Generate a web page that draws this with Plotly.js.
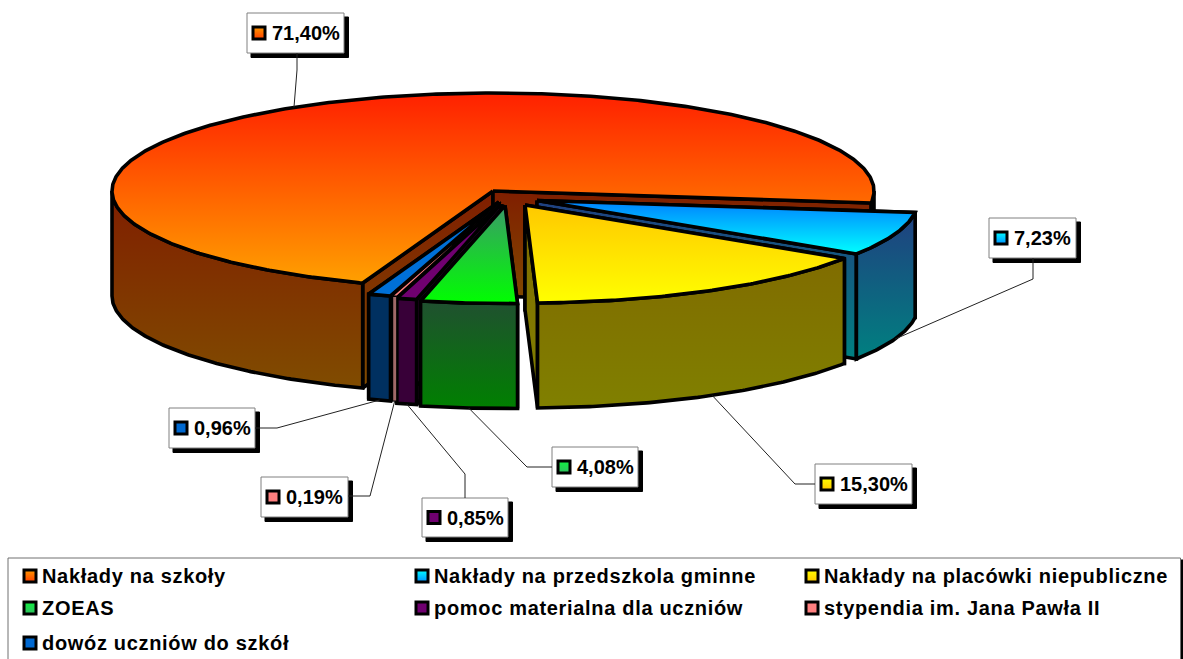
<!DOCTYPE html>
<html><head><meta charset="utf-8">
<script src="https://cdn.plot.ly/plotly-3.0.1.min.js"></script>
<style>html,body{margin:0;padding:0;background:#fff}#c{width:1183px;height:659px}</style>
</head><body><div id="c"></div>
<script>
// ---- data ----
var categories = ["Nakłady na szkoły","Nakłady na przedszkola gminne","Nakłady na placówki niepubliczne","ZOEAS","pomoc materialna dla uczniów","stypendia im. Jana Pawła II","dowóz uczniów do szkół"];
var values = [71.40,7.23,15.30,4.08,0.85,0.19,0.96];
var valueLabels = ["71,40%","7,23%","15,30%","4,08%","0,85%","0,19%","0,96%"];

// ---- projection of the tilted pie ----
var cx=493, cy=191, rx=381, ry=98, depth=105, startAngle=110;
var explodeX=[0,44,32,12,8,8,6];
var explodeY=[0,9.5,14,14.5,13,11,11];
var outline=[3.6,3.6,3.6,3.6,3.6,1.4,3.6];
var showFaces=[true,true,true,true,true,false,true];
// ---- styles: [topStart, topEnd, sideStart, sideEnd] ----
var sliceColors=[
 ["#ff2000","#ffa000","#801e00","#804c00"],
 ["#0080ff","#00ffff","#204080","#008080"],
 ["#ffc800","#ffff00","#806c00","#808000"],
 ["#3a9a68","#00ff00","#205030","#008000"],
 ["#700070","#700070","#380038","#380038"],
 ["#ff8080","#ff8080","#a06868","#a06868"],
 ["#0070d8","#0070d8","#003060","#003060"]];
var iconColors=[["#ff4000","#ff9800"],["#0090ff","#00ffff"],["#ffc800","#ffff00"],["#30c060","#10f040"],["#700070","#700070"],["#ff8080","#ff8080"],["#0068d0","#0068d0"]];
var drawOrder=[0,1,2,6,4,5,3];
// label boxes: left, top, width, height
var boxes=[[247,13,97,40],[989,218,87,40],[815,464,97,40],[552,447,86,40],[422,498,86,39],[261,477,87,40],[169,408,86,40]];
// leader: elbow point, and box attachment point
var elbows=[[297,70],[1033,279],[795,484],[527,467],[465,474],[370,496],[277,428]];
var attach=[[297,53],[1033,258],[815,484],[552,467],[465,498],[348,496],[255,428]];
var legendX=[30,422,812], legendY=[576,608,643];

// ---- computed geometry ----
var sum=values.reduce(function(a,b){return a+b},0);
var angles=[],a0=startAngle;
values.forEach(function(v){var a1=a0+v/sum*360;angles.push([a0,a1]);a0=a1;});
function pt(i,deg,dz){var t=deg*Math.PI/180;return [cx+explodeX[i]+rx*Math.cos(t),cy+explodeY[i]+ry*Math.sin(t)+(dz||0)];}
function centre(i,dz){return [cx+explodeX[i],cy+explodeY[i]+(dz||0)];}
function arc(i,a,b,dz){var n=Math.max(2,Math.ceil(Math.abs(b-a))*2),o=[];for(var k=0;k<=n;k++){o.push(pt(i,a+(b-a)*k/n,dz));}return o;}
var traces=[];
function poly(points,c0,c1,w){
  var ys=points.map(function(p){return p[1]});
  var lo=Math.min.apply(null,ys),hi=Math.max.apply(null,ys);
  var xs=points.map(function(p){return p[0]}); xs.push(xs[0]);
  var yy=ys.slice(); yy.push(ys[0]);
  traces.push({type:'scatter',mode:'lines',x:xs,y:yy,fill:'toself',hoverinfo:'skip',showlegend:false,
    line:{color:'#000',width:w,shape:'linear'},
    fillgradient:{type:'vertical',start:lo,stop:hi,colorscale:[[0,c0],[1,c1]]}});
}
drawOrder.forEach(function(i){
  var a=angles[i][0],b=angles[i][1],col=sliceColors[i],w=outline[i];
  // cut faces
  if(showFaces[i]){
    [a,b].forEach(function(e){
      poly([centre(i),pt(i,e),pt(i,e,depth),centre(i,depth)],col[2],col[3],w);
    });
  }
  // outer wall, only the part turned to the viewer
  [[a,Math.min(b,180)],[Math.max(a,360),b]].forEach(function(s){
    if(s[1]>s[0]){poly(arc(i,s[0],s[1]).concat(arc(i,s[1],s[0],depth)),col[2],col[3],w);}
  });
  // top
  poly([centre(i)].concat(arc(i,a,b)),col[0],col[1],w);
});
// leader lines from slice to label
values.forEach(function(v,i){
  var mid=(angles[i][0]+angles[i][1])/2,s=Math.sin(mid*Math.PI/180);
  var p=pt(i,mid,s>0?depth:0);
  traces.push({type:'scatter',mode:'lines',x:[p[0],elbows[i][0],attach[i][0]],y:[p[1],elbows[i][1],attach[i][1]],
    line:{color:'#222',width:1},hoverinfo:'skip',showlegend:false});
});
// swatches in labels and legend
function icon(name,x,y,i){
  traces.push({type:'scatter',mode:'markers',name:name,x:[x],y:[y],hoverinfo:'skip',showlegend:false,
    marker:{symbol:'square',size:12,color:iconColors[i][1],line:{color:'#000',width:3},
    gradient:{type:'vertical',color:iconColors[i][0]}}});
}
var shapes=[],annotations=[];
// legend frame
shapes.push({type:'rect',layer:'below',xref:'x',yref:'y',x0:10,x1:1183,y0:560,y1:680,fillcolor:'rgb(0,0,0)',line:{color:'rgb(0,0,0)',width:1}});
shapes.push({type:'rect',layer:'below',xref:'x',yref:'y',x0:8,x1:1180.5,y0:558,y1:680,fillcolor:'#fff',line:{color:'#707070',width:1}});
boxes.forEach(function(b,i){
  shapes.push({type:'rect',layer:'below',xref:'x',yref:'y',x0:b[0]+4,x1:b[0]+b[2]+4.5,y0:b[1]+4,y1:b[1]+b[3]+4.5,fillcolor:'rgb(0,0,0)',line:{color:'rgb(0,0,0)',width:1}});
  shapes.push({type:'rect',layer:'below',xref:'x',yref:'y',x0:b[0],x1:b[0]+b[2],y0:b[1],y1:b[1]+b[3],fillcolor:'#fff',line:{color:'#808080',width:1}});
  icon(categories[i],b[0]+12,b[1]+b[3]/2,i);
  annotations.push({x:b[0]+23,y:b[1]+b[3]/2,xref:'x',yref:'y',xanchor:'left',yanchor:'middle',showarrow:false,
    text:'<b>'+valueLabels[i]+'</b>',font:{family:'Liberation Sans',size:20,color:'#000'}});
});
categories.forEach(function(c,i){
  var lx=legendX[i%3],ly=legendY[Math.floor(i/3)];
  icon(c,lx,ly,i);
  annotations.push({x:lx+10,y:ly,xref:'x',yref:'y',xanchor:'left',yanchor:'middle',showarrow:false,
    text:'<span style="letter-spacing:0.68px"><b>'+c+'</b></span>',font:{family:'Liberation Sans',size:20,color:'#000'}});
});
Plotly.newPlot('c',traces,{
  width:1183,height:659,margin:{l:0,r:0,t:0,b:0},showlegend:false,
  paper_bgcolor:'#fff',plot_bgcolor:'#fff',hovermode:false,
  xaxis:{range:[0,1183],visible:false,fixedrange:true},
  yaxis:{range:[659,0],visible:false,fixedrange:true},
  shapes:shapes,annotations:annotations
},{displayModeBar:false,staticPlot:true});
</script></body></html>
